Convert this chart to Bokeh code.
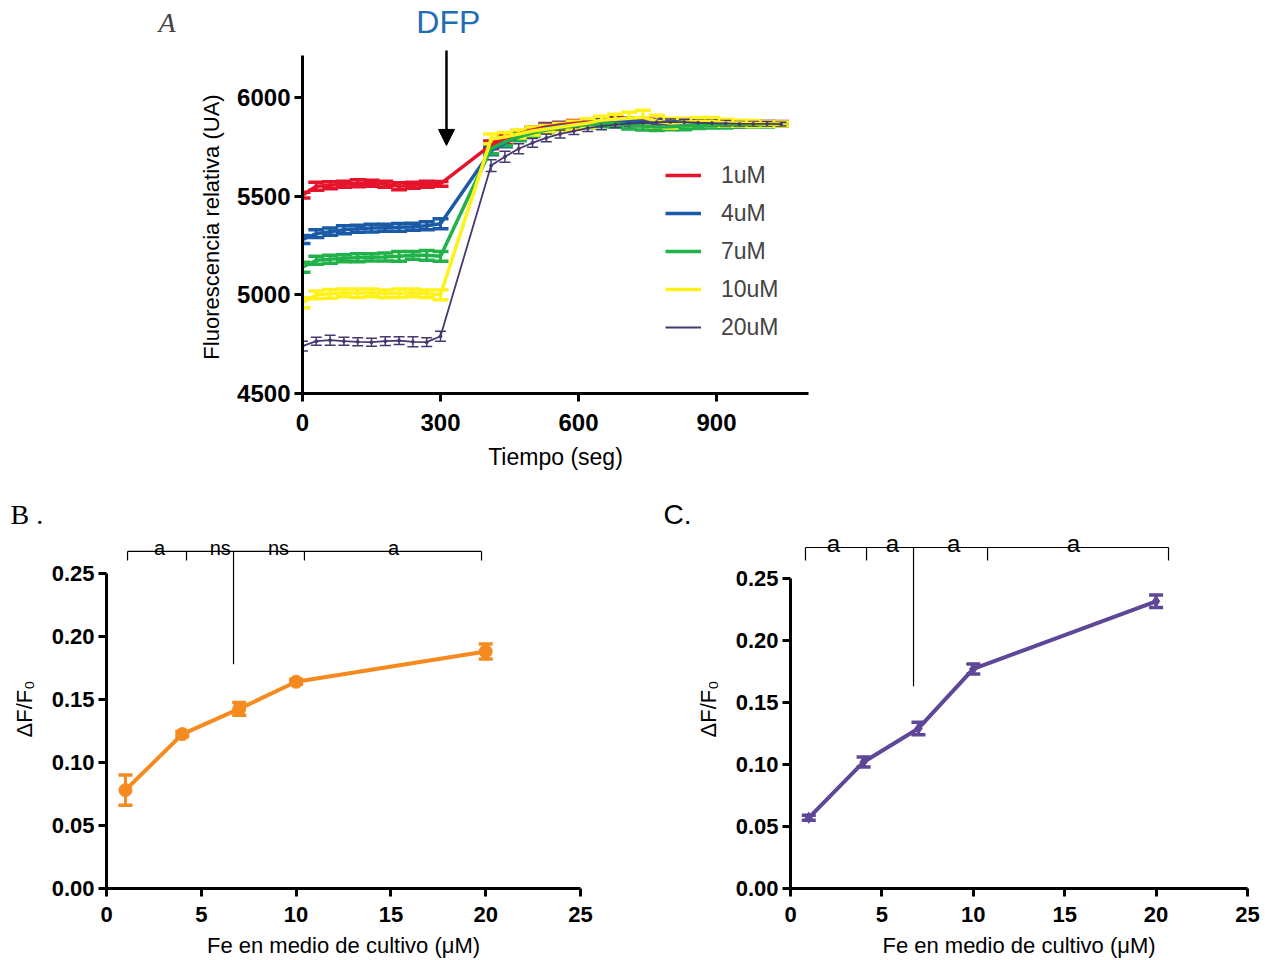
from bokeh.plotting import figure
from bokeh.models import (Range1d, FixedTicker, NumeralTickFormatter, Whisker, TeeHead,
                          ColumnDataSource, Legend, LegendItem, Arrow, NormalHead,
                          LinearAxis, Title)
from bokeh.layouts import column, row
from bokeh.embed import file_html
from bokeh.resources import INLINE
from bokeh.core.properties import value

# ---------------- DATA ----------------
# Panel A : time course (s) of relative fluorescence (UA)
t_pre = [0, 30, 60, 90, 120, 150, 180, 210, 240, 270, 300]
t_post = [410, 440, 470, 500, 530, 560, 590, 620, 650, 680, 710,
          740, 770, 800, 830, 860, 890, 920, 950, 980, 1010, 1040]
times = t_pre + t_post

series_labels = ["1uM", "4uM", "7uM", "10uM", "20uM"]
fl_1uM = [5505, 5550, 5555, 5560, 5565, 5565, 5560, 5550, 5555, 5560, 5562,
          5760, 5790, 5815, 5835, 5850, 5860, 5868, 5875, 5880, 5885, 5880,
          5875, 5870, 5868, 5862, 5866, 5868, 5870, 5865, 5868, 5866, 5868]
fl_4uM = [5280, 5310, 5320, 5330, 5335, 5338, 5340, 5342, 5345, 5350, 5360,
          5730, 5770, 5800, 5825, 5845, 5855, 5862, 5870, 5875, 5878, 5880,
          5876, 5872, 5870, 5868, 5866, 5868, 5866, 5865, 5866, 5866, 5866]
fl_7uM = [5140, 5175, 5180, 5185, 5188, 5190, 5192, 5195, 5200, 5200, 5195,
          5740, 5775, 5800, 5820, 5835, 5848, 5855, 5862, 5866, 5868, 5860,
          5855, 5850, 5852, 5855, 5858, 5860, 5860, 5862, 5862, 5862, 5865]
fl_10uM = [4960, 5000, 5005, 5010, 5008, 5010, 5005, 5008, 5010, 5005, 5000,
           5790, 5800, 5815, 5830, 5840, 5850, 5860, 5870, 5885, 5890, 5895,
           5900, 5880, 5870, 5875, 5880, 5878, 5872, 5870, 5868, 5866, 5866]
fl_20uM = [4740, 4765, 4770, 4765, 4762, 4760, 4765, 4768, 4762, 4760, 4790,
           5655, 5700, 5740, 5770, 5795, 5815, 5830, 5845, 5855, 5862, 5868,
           5872, 5875, 5876, 5875, 5872, 5870, 5868, 5866, 5866, 5866, 5865]
err_1uM = [15, 20, 18, 15, 18, 15, 15, 18, 15, 15, 12,
           20, 20, 18, 15, 18, 15, 15, 15, 18, 20, 15,
           18, 20, 15, 18, 15, 15, 15, 15, 12, 12, 10]
err_4uM = [20, 20, 18, 20, 18, 20, 18, 20, 18, 20, 25,
           20, 20, 18, 15, 18, 15, 15, 15, 18, 15, 15,
           15, 15, 15, 15, 15, 15, 15, 12, 12, 12, 10]
err_7uM = [25, 20, 20, 18, 20, 18, 20, 25, 20, 25, 25,
           25, 20, 18, 18, 15, 15, 15, 15, 15, 18, 20,
           20, 18, 15, 18, 15, 15, 15, 12, 12, 12, 10]
err_10uM = [25, 20, 22, 20, 22, 20, 20, 22, 20, 20, 25,
            25, 22, 20, 20, 18, 18, 20, 22, 20, 25, 30,
            35, 30, 25, 20, 18, 20, 18, 15, 15, 12, 10]
err_20uM = [25, 20, 25, 20, 20, 20, 22, 20, 25, 22, 25,
            30, 28, 25, 22, 20, 20, 18, 18, 18, 15, 15,
            15, 15, 15, 15, 15, 15, 15, 12, 12, 12, 10]

# Panel B / C : dose response
fe_conc = [1, 4, 7, 10, 20]
dff_B = [0.078, 0.1225, 0.1425, 0.164, 0.188]
err_B = [0.012, 0.002, 0.005, 0.002, 0.006]
dff_C = [0.057, 0.102, 0.129, 0.177, 0.2315]
err_C = [0.002, 0.004, 0.005, 0.004, 0.005]

# significance brackets
sig_B_labels = ["a", "ns", "ns", "a"]
sig_B_label_x = [2.8, 6.0, 9.07, 15.14]
sig_B_drop_x = [1.11, 4.22, 10.44, 19.78]
sig_B_long_x = 6.70
sig_C_labels = ["a", "a", "a", "a"]
sig_C_label_x = [2.35, 5.58, 8.92, 15.48]
sig_C_drop_x = [0.82, 4.16, 10.78, 20.68]
sig_C_long_x = 6.73

FONT = "Liberation Sans"
colors_A = ["#E5132B", "#1A5AA6", "#22B24B", "#FFF21A", "#47396F"]


def style_axes(p, tick_size):
    for ax in (p.xaxis, p.yaxis):
        ax.axis_line_width = 3
        ax.axis_line_color = "black"
        ax.major_tick_line_width = 3
        ax.major_tick_line_color = "black"
        ax.major_tick_out = 8
        ax.major_tick_in = 0
        ax.minor_tick_line_color = None
        ax.major_label_text_font = FONT
        ax.major_label_text_font_style = "bold"
        ax.major_label_text_font_size = tick_size
        ax.major_label_text_color = "black"
        ax.axis_label_text_font = FONT
        ax.axis_label_text_font_style = "normal"
        ax.axis_label_text_color = "black"
    p.xgrid.grid_line_color = None
    p.ygrid.grid_line_color = None
    p.outline_line_color = None


# ---------------- PANEL A ----------------
pA = figure(width=1265, height=480, output_backend="svg", toolbar_location=None,
            x_range=Range1d(0, 1100), y_range=Range1d(4500, 6466),
            min_border_left=302, min_border_right=457, min_border_top=5, min_border_bottom=87)
style_axes(pA, "24px")
pA.xaxis.ticker = FixedTicker(ticks=[0, 300, 600, 900])
pA.yaxis.ticker = FixedTicker(ticks=[4500, 5000, 5500, 6000])
pA.yaxis.bounds = (4500, 6213)
pA.xaxis.axis_label = "Tiempo (seg)"
# trailing em/en spaces shift the visible label down to the centre of the drawn axis
pA.yaxis.axis_label = "Fluorescencia relativa (UA)\u2003\u2003\u2002"
pA.xaxis.axis_label_text_font_size = "23px"
pA.yaxis.axis_label_text_font_size = "22px"
pA.xaxis.major_label_standoff = 12
pA.yaxis.major_label_standoff = 4
pA.xaxis.axis_label_standoff = 10
pA.yaxis.axis_label_standoff = 10

# panel letter "A" as a label-only axis on the left
letter_A_y = 6380
axA = LinearAxis(ticker=FixedTicker(ticks=[letter_A_y]),
                 major_label_overrides={letter_A_y: "A"},
                 axis_line_color=None, major_tick_line_color=None, major_tick_out=0,
                 minor_tick_line_color=None, major_label_standoff=21,
                 major_label_text_font="Liberation Serif",
                 major_label_text_font_style="italic",
                 major_label_text_font_size="28px")
pA.add_layout(axA, "left")

vals_A = [fl_1uM, fl_4uM, fl_7uM, fl_10uM, fl_20uM]
errs_A = [err_1uM, err_4uM, err_7uM, err_10uM, err_20uM]
legend_items = []
for i, (lab, vals, errs, col) in enumerate(zip(series_labels, vals_A, errs_A, colors_A)):
    thin = (i == 4)
    lw = 1.8 if thin else 3.5
    src = ColumnDataSource(dict(t=times, v=vals,
                                up=[a + b for a, b in zip(vals, errs)],
                                lo=[a - b for a, b in zip(vals, errs)]))
    r = pA.line("t", "v", source=src, line_color=col, line_width=lw)
    hsize = 11 if thin else 16
    w = Whisker(source=src, base="t", upper="up", lower="lo", dimension="height",
                line_color=col, line_width=1.5 if thin else 3,
                upper_head=TeeHead(size=hsize, line_color=col, line_width=1.5 if thin else 3.5),
                lower_head=TeeHead(size=hsize, line_color=col, line_width=1.5 if thin else 3.5))
    pA.add_layout(w)
    if thin:
        pA.scatter("t", "v", source=src, size=3, color=col)
    legend_items.append(LegendItem(label=lab, renderers=[r]))

leg = Legend(items=legend_items, location=(363, 51), orientation="vertical",
             glyph_width=36, glyph_height=20, label_height=30, spacing=8,
             padding=0, margin=0, border_line_color=None, background_fill_alpha=0,
             label_text_font=FONT, label_text_font_size="23px", label_standoff=20)
pA.add_layout(leg)

# DFP annotation
dfp_x, dfp_text_y = 317, 6380
arrow_x, arrow_y0, arrow_y1 = 313, 6238, 5757
pA.text(x=[dfp_x], y=[dfp_text_y], text=["DFP"], text_font=value(FONT),
        text_font_size="32px", text_color="#1F6DB3", text_align="center",
        text_baseline="middle")
pA.add_layout(Arrow(x_start=arrow_x, y_start=arrow_y0, x_end=arrow_x, y_end=arrow_y1,
                    line_width=2.5, line_color="black",
                    end=NormalHead(size=16, fill_color="black", line_color="black")))


# ---------------- PANELS B, C ----------------
def dose_panel(width, mleft, mright, ytop, vals, errs, col, marker, msize,
               labels, label_x, label_y, drop_x, long_x, long_y, bar_y, drop_y, lab_size,
               letter, letter_font, letter_offset):
    p = figure(width=width, height=480, output_backend="svg", toolbar_location=None,
               x_range=Range1d(0, 25), y_range=Range1d(0, ytop),
               min_border_left=mleft, min_border_right=mright, min_border_top=49,
               min_border_bottom=71)
    p.title = Title(text=letter, align="left", offset=letter_offset, standoff=0,
                    text_font=letter_font, text_font_size="28px",
                    text_font_style="normal", text_color="black")
    style_axes(p, "22px")
    p.xaxis.ticker = FixedTicker(ticks=[0, 5, 10, 15, 20, 25])
    p.yaxis.ticker = FixedTicker(ticks=[0, 0.05, 0.10, 0.15, 0.20, 0.25])
    p.yaxis.formatter = NumeralTickFormatter(format="0.00")
    p.yaxis.bounds = (0, 0.25)
    p.xaxis.axis_label = "Fe en medio de cultivo (μM)"
    p.yaxis.axis_label = "ΔF/F₀"
    p.xaxis.axis_label_text_font_size = "22px"
    p.yaxis.axis_label_text_font_size = "22px"
    p.xaxis.major_label_standoff = 10
    p.yaxis.major_label_standoff = 4
    p.xaxis.axis_label_standoff = 8
    p.yaxis.axis_label_standoff = 12

    src = ColumnDataSource(dict(x=fe_conc, y=vals,
                                up=[a + b for a, b in zip(vals, errs)],
                                lo=[a - b for a, b in zip(vals, errs)]))
    p.line("x", "y", source=src, line_color=col, line_width=4)
    p.add_layout(Whisker(source=src, base="x", upper="up", lower="lo", dimension="height",
                         line_color=col, line_width=3,
                         upper_head=TeeHead(size=14, line_color=col, line_width=3.5),
                         lower_head=TeeHead(size=14, line_color=col, line_width=3.5)))
    p.scatter("x", "y", source=src, marker=marker, size=msize, color=col)

    # significance bracket
    p.segment(x0=[drop_x[0]], y0=[bar_y], x1=[drop_x[-1]], y1=[bar_y],
              line_color="black", line_width=1.2)
    p.segment(x0=drop_x, y0=[bar_y] * len(drop_x), x1=drop_x, y1=[drop_y] * len(drop_x),
              line_color="black", line_width=1.2)
    p.segment(x0=[long_x], y0=[bar_y], x1=[long_x], y1=[long_y],
              line_color="black", line_width=1.2)
    p.text(x=label_x, y=[label_y] * len(label_x), text=labels, text_font=value(FONT),
           text_font_size=lab_size, text_align="center", text_baseline="alphabetic")
    return p


pB = dose_panel(620, 106, 40, 0.2848, dff_B, err_B, "#F58A1F", "circle", 13,
                sig_B_labels, sig_B_label_x, 0.2705, sig_B_drop_x, sig_B_long_x, 0.178,
                0.2674, 0.2603, "20px", "B .", "Liberation Serif", -96)
pC = dose_panel(645, 170, 18, 0.2894, dff_C, err_C, "#5E4796", "diamond", 11,
                sig_C_labels, sig_C_label_x, 0.2781, sig_C_drop_x, sig_C_long_x, 0.163,
                0.2749, 0.2645, "24px", "C.", FONT, -127)

layout = column(pA, row(pB, pC, spacing=0), spacing=0)
open("out.html", "w").write(file_html(layout, INLINE))
